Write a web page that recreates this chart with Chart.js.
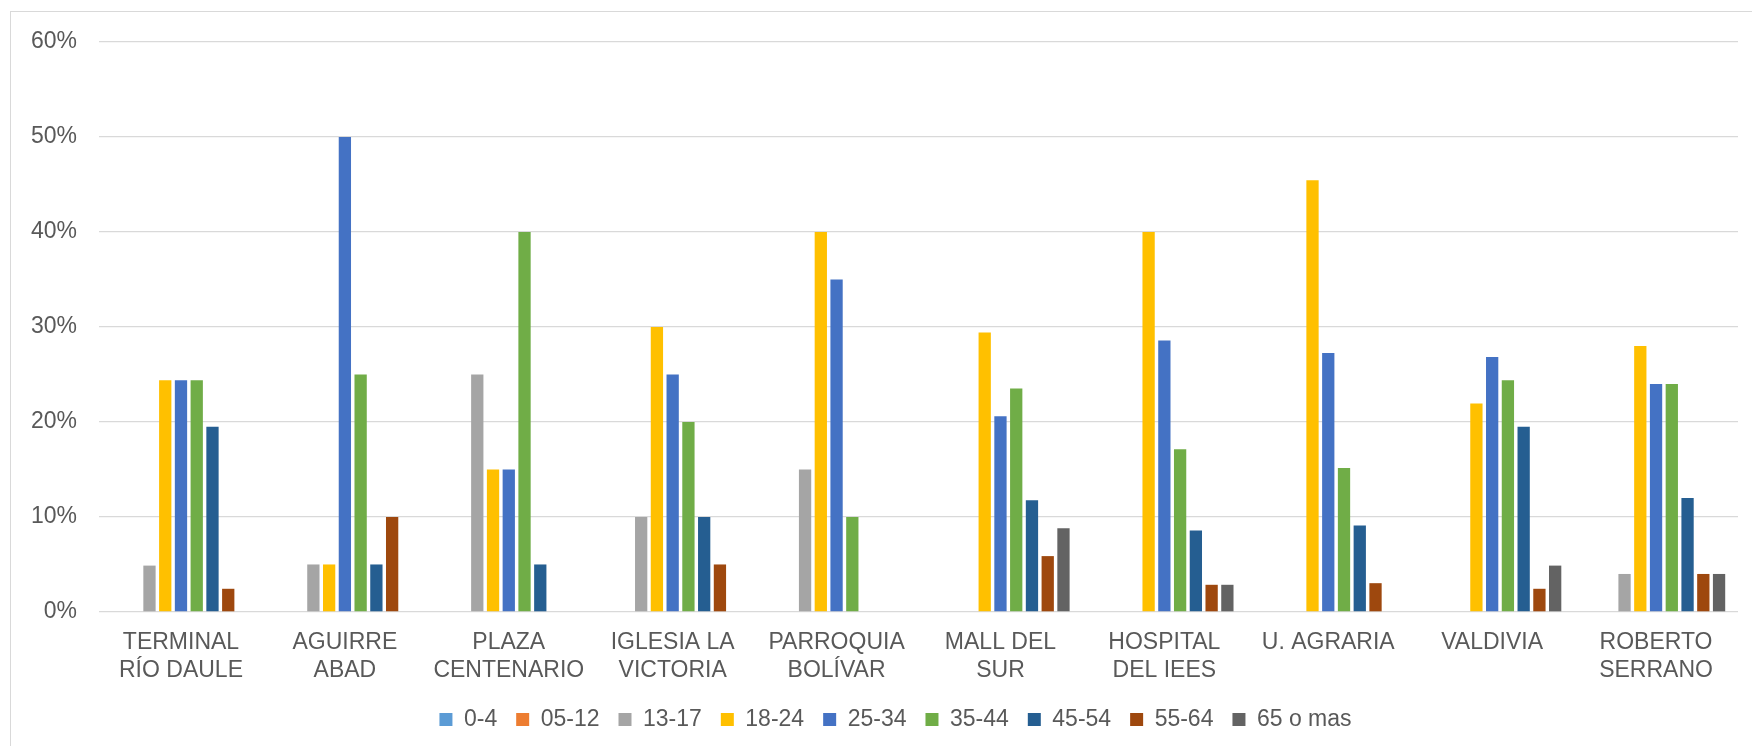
<!DOCTYPE html>
<html>
<head>
<meta charset="utf-8">
<script src="https://cdn.jsdelivr.net/npm/chart.js@4"></script>
<style>
html,body{margin:0;padding:0;background:#fff;}
#wrap{position:relative;width:1752px;height:746px;overflow:hidden;}
#frame{position:absolute;left:10px;top:11px;width:1760px;height:760px;border:1px solid #D9D9D9;box-sizing:border-box;}
canvas{position:absolute;left:0;top:0;}
</style>
</head>
<body>
<div id="wrap">
<div id="frame"></div>
<canvas id="c" width="1752" height="746"></canvas>
</div>
<script>
const categories = [
  ["TERMINAL","RÍO DAULE"],
  ["AGUIRRE","ABAD"],
  ["PLAZA","CENTENARIO"],
  ["IGLESIA LA","VICTORIA"],
  ["PARROQUIA","BOLÍVAR"],
  ["MALL DEL","SUR"],
  ["HOSPITAL","DEL IEES"],
  "U. AGRARIA",
  "VALDIVIA",
  ["ROBERTO","SERRANO"]
];
const seriesNames = ["0-4","05-12","13-17","18-24","25-34","35-44","45-54","55-64","65 o mas"];
const s0_4    = [0,0,0,0,0,0,0,0,0,0];
const s05_12  = [0,0,0,0,0,0,0,0,0,0];
const s13_17  = [4.88,5,25,10,15,0,0,0,0,4];
const s18_24  = [24.39,5,15,30,40,29.41,40,45.45,21.95,28];
const s25_34  = [24.39,50,15,25,35,20.59,28.57,27.27,26.83,24];
const s35_44  = [24.39,25,40,20,10,23.53,17.14,15.15,24.39,24];
const s45_54  = [19.51,5,5,10,0,11.76,8.57,9.09,19.51,12];
const s55_64  = [2.44,10,0,5,0,5.88,2.86,3.03,2.44,4];
const s65     = [0,0,0,0,0,8.82,2.86,0,4.88,4];
const yTicks = ["0%","10%","20%","30%","40%","50%","60%"];
const colors = ["#5B9BD5","#ED7D31","#A5A5A5","#FFC000","#4472C4","#70AD47","#255E91","#9E480E","#636363"];

const allSeries = [s0_4,s05_12,s13_17,s18_24,s25_34,s35_44,s45_54,s55_64,s65];
const FONT = "'Liberation Sans', Arial, sans-serif";
const datasets = allSeries.map((d,i)=>({
  label: seriesNames[i],
  data: d,
  backgroundColor: colors[i],
  borderWidth: 0,
  categoryPercentage: 0.865,
  barPercentage: 0.78
}));

const legendShift = {
  id: 'legendShift',
  afterLayout(chart) {
    const lg = chart.legend;
    if (lg) { lg.left += 22; lg.right += 22; }
  }
};

new Chart(document.getElementById('c'), {
  type: 'bar',
  data: { labels: categories, datasets },
  plugins: [legendShift],
  options: {
    responsive: false,
    animation: false,
    devicePixelRatio: 1,
    layout: { padding: { left: 9, right: 14, top: 42, bottom: 5 } },
    plugins: {
      tooltip: { enabled: false },
      legend: {
        position: 'bottom',
        labels: {
          font: { family: FONT, size: 23 },
          color: '#595959',
          boxWidth: 13,
          boxHeight: 13,
          padding: 19
        }
      }
    },
    scales: {
      x: {
        grid: { display: false, drawTicks: false },
        border: { display: false },
        afterFit: (axis) => { axis.height -= 12; },
        ticks: {
          font: { family: FONT, size: 23, lineHeight: 1.24 },
          color: '#595959',
          padding: 16,
          maxRotation: 0,
          autoSkip: false
        }
      },
      y: {
        min: 0, max: 60,
        grid: { color: '#D9D9D9', lineWidth: 1.3, drawTicks: false },
        border: { display: false },
        ticks: {
          stepSize: 10,
          font: { family: FONT, size: 23 },
          color: '#595959',
          padding: 22,
          callback: (v) => yTicks[Math.round(v/10)]
        }
      }
    }
  }
});
</script>
</body>
</html>
